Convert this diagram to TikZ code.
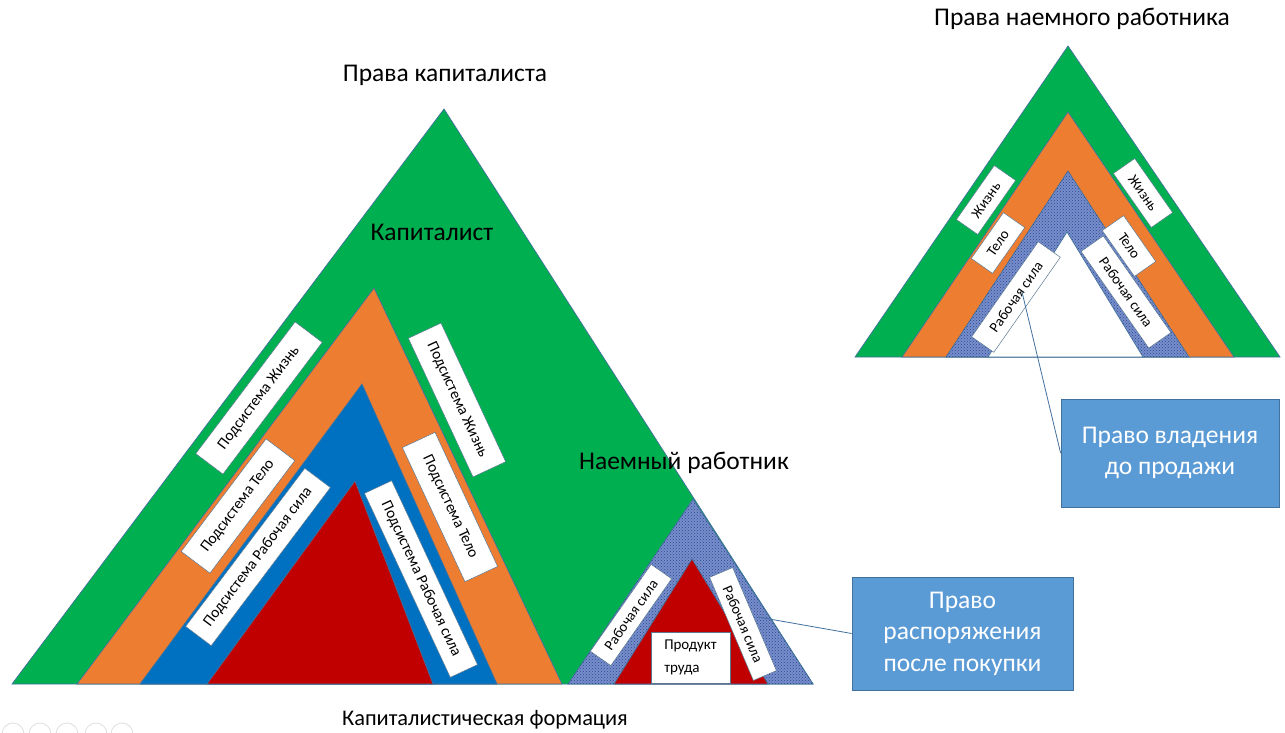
\documentclass[tikz,border=0pt]{standalone}
\usepackage{fontspec}
\setmainfont{Carlito}
\usetikzlibrary{patterns}
\definecolor{cgreen}{RGB}{0,176,80}
\definecolor{corange}{RGB}{237,125,49}
\definecolor{cblue}{RGB}{0,112,192}
\definecolor{cred}{RGB}{192,0,0}
\definecolor{ccall}{RGB}{91,155,213}
\definecolor{cedge}{RGB}{65,113,156}
\definecolor{chatch}{RGB}{118,143,204}
\definecolor{cdots}{RGB}{48,68,140}
\begin{document}
\begin{tikzpicture}[x=1pt,y=-1pt,
  tri/.style={draw=cedge, line width=0.7pt},
  hatchtri/.style={draw=cedge, line width=0.7pt, fill=chatch, postaction={pattern=crosshatch dots, pattern color=cdots}},
  lbl/.style={draw=cedge!60!gray, fill=white, line width=0.5pt, inner sep=0pt, font=\fontsize{15.5}{15.5}\selectfont},
  slbl/.style={draw=cedge!60!gray, fill=white, line width=0.5pt, inner sep=0pt, font=\fontsize{14.5}{14.5}\selectfont},
  title/.style={font=\fontsize{25.5}{25.5}\selectfont, inner sep=0pt},
  callout/.style={draw=cedge, fill=ccall, line width=0.8pt, text=white, align=center, font=\fontsize{25.5}{31.5}\selectfont, inner sep=0pt},
  conn/.style={draw=cedge, line width=0.8pt},
  icon/.style={draw=gray!25, line width=0.8pt}]
\useasboundingbox (0,0) rectangle (1285,733);
\fill[white] (0,0) rectangle (1285,733);

% big triangle (capitalist)
\path[tri, fill=cgreen] (444,109) -- (813,684) -- (12,684) -- cycle;
\path[tri, fill=corange] (374,288) -- (562,684) -- (77,684) -- cycle;
\path[tri, fill=cblue] (362,384) -- (497,684) -- (140,684) -- cycle;
\path[tri, fill=cred] (355,481) -- (433,684) -- (207,684) -- cycle;
% hired worker triangle
\path[hatchtri] (693,499) -- (813,684) -- (568,684) -- cycle;
\path[tri, fill=cred] (692,559) -- (768,684) -- (614,684) -- cycle;

% top right triangle
\path[tri, fill=cgreen] (1068,46) -- (1280,357) -- (855,357) -- cycle;
\path[tri, fill=corange] (1068,112) -- (1234,357) -- (902,357) -- cycle;
\path[hatchtri] (1068,171) -- (1189,357) -- (946,357) -- cycle;
\path[tri, fill=white] (1067,232) -- (1143,357) -- (988,357) -- cycle;

% titles
\node[title] (t1) at (445,75) {Права капиталиста};
\node[title] (t2) at (1082,19) {Права наемного работника};
\node[title] (t3) at (432,232) {Капиталист};
\node[title] (t4) at (684,463) {Наемный работник};
\node[title, font=\fontsize{22.4}{22.4}\selectfont] (t5) at (485,720) {Капиталистическая формация};

% labels big triangle
\node[lbl, rotate=53, minimum width=165, minimum height=34] (l1) at (259,398) {Подсистема Жизнь};
\node[lbl, rotate=53, minimum width=141, minimum height=36] (l2) at (238,506) {Подсистема Тело};
\node[lbl, rotate=53, minimum width=198, minimum height=32] (l3) at (258,557) {Подсистема Рабочая сила};
\node[lbl, rotate=-65, minimum width=153, minimum height=36] (r1) at (457,400) {Подсистема Жизнь};
\node[lbl, rotate=-65, minimum width=148, minimum height=36] (r2) at (450,507) {Подсистема Тело};
\node[lbl, rotate=-65, minimum width=203, minimum height=30] (r3) at (421,579) {Подсистема Рабочая сила};

% labels small triangle
\node[slbl, rotate=55, minimum width=106, minimum height=25] (s1) at (631,615) {Рабочая сила};
\node[slbl, rotate=-67, minimum width=112, minimum height=25] (s2) at (743,624) {Рабочая сила};
\node[draw=cedge!60!gray, fill=white, line width=0.5pt, minimum width=79, minimum height=51, inner sep=0pt, align=left, font=\fontsize{15}{23}\selectfont] (p) at (690.5,657.5) {Продукт\\труда};

% labels top-right triangle
\node[slbl, rotate=55, minimum width=66, minimum height=26] (tl1) at (986,200) {Жизнь};
\node[slbl, rotate=55, minimum width=56, minimum height=26] (tl2) at (998,243) {Тело};
\node[slbl, rotate=55, minimum width=116, minimum height=27] (tl3) at (1016,297) {Рабочая сила};
\node[slbl, rotate=-55, minimum width=66, minimum height=26] (tr1) at (1143,193) {Жизнь};
\node[slbl, rotate=-55, minimum width=56, minimum height=26] (tr2) at (1129,246) {Тело};
\node[slbl, rotate=-55, minimum width=118, minimum height=27] (tr3) at (1126,292) {Рабочая сила};

% callouts
\node[callout, minimum width=218, minimum height=108] (cb1) at (1170,453) {Право владения\\до продажи};
\node[callout, minimum width=221, minimum height=113] (cb2) at (962.5,633.5) {Право\\распоряжения\\после покупки};
\coordinate (e1) at (1022,292);
\coordinate (e2) at (758,617);
\draw[conn] (cb1.west) -- (e1);
\draw[conn] (cb2.west) -- (e2);

% faint viewer icons
\foreach \i/\x in {1/13,2/40,3/67,4/96,5/122}{
  \draw[icon] (\x,734) circle (11);
}
\end{tikzpicture}
\end{document}
